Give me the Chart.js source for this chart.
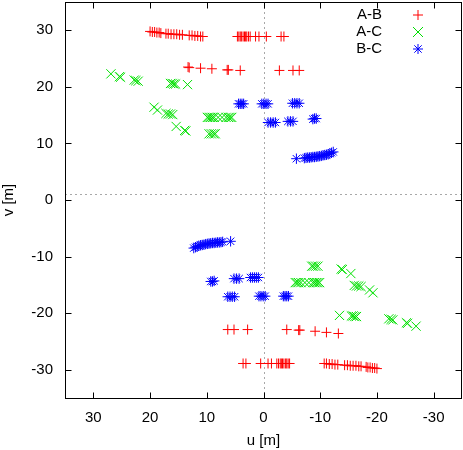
<!DOCTYPE html>
<html><head><meta charset="utf-8">
<script src="https://cdn.jsdelivr.net/npm/chart.js@4/dist/chart.umd.min.js"></script>
<style>html,body{margin:0;padding:0;background:#fff;}canvas{display:block;}</style>
</head><body>
<canvas id="c" width="463" height="450"></canvas>
<script>
// ---- data ----
const seriesNames = ['A-B', 'A-C', 'B-C'];

const uAB = [20.0,19.6,19.2,18.8,18.4,18.1,17.2,16.8,16.3,15.8,15.3,14.8,14.3,13.1,12.6,12.1,11.6,11.1,10.7,
             4.6,4.35,4.1,3.9,3.6,3.35,3.15,2.95,2.65,2.35,1.4,0.8,-0.5,-3.1,-3.6,
             13.3,13.1,11.1,9.1,6.4,6.2,4.1,-2.8,-5.2,-6.3,
             -20.0,-19.6,-19.2,-18.8,-18.4,-18.1,-17.2,-16.8,-16.3,-15.8,-15.3,-14.8,-14.3,-13.1,-12.6,-12.1,-11.6,-11.1,-10.7,
             -4.6,-4.35,-4.1,-3.9,-3.6,-3.35,-3.15,-2.95,-2.65,-2.35,-1.4,-0.8,0.5,3.1,3.6,
             -13.2,-11.1,-9.1,-6.4,-6.2,-4.1,2.8,5.2,6.3];
const vAB = [29.8,29.7,29.7,29.6,29.6,29.5,29.4,29.4,29.3,29.3,29.3,29.2,29.2,29.1,29.1,29.0,29.0,28.9,28.9,
             28.9,28.9,28.9,28.9,28.9,28.9,28.9,28.9,28.9,28.9,28.9,28.9,28.9,28.9,28.9,
             23.5,23.4,23.3,23.2,23.0,23.0,22.9,22.9,22.9,22.9,
             -29.8,-29.7,-29.7,-29.6,-29.6,-29.5,-29.4,-29.4,-29.3,-29.3,-29.3,-29.2,-29.2,-29.1,-29.1,-29.0,-29.0,-28.9,-28.9,
             -28.9,-28.9,-28.9,-28.9,-28.9,-28.9,-28.9,-28.9,-28.9,-28.9,-28.9,-28.9,-28.9,-28.9,-28.9,
             -23.6,-23.4,-23.2,-23.0,-23.0,-22.9,-22.9,-22.9,-22.9];

const uAC = [26.9,25.4,25.2, 22.8,22.5,22.1,
             16.4,16.1,15.8,15.5,13.4,
             19.3,18.7, 17.2,16.8,16.4,16.0,
             15.4,13.9,13.7,
             9.9,9.6,9.3,9.0,8.7,8.0,7.3,6.6,6.2,5.9,5.6,
             9.6,9.2,8.8,8.5,
             -26.9,-25.4,-25.2, -22.8,-22.5,-22.1,
             -16.4,-16.1,-15.8,-15.5,-13.4,
             -19.3,-18.7, -17.2,-16.8,-16.4,-16.0,
             -15.4,-13.9,-13.7,
             -9.9,-9.6,-9.3,-9.0,-8.7,-8.0,-7.3,-6.6,-6.2,-5.9,-5.6,
             -9.6,-9.2,-8.8,-8.5];
const vAC = [22.3,21.8,21.7, 21.2,21.1,21.0,
             20.6,20.6,20.5,20.5,20.4,
             16.4,15.9, 15.3,15.2,15.2,15.1,
             13.0,12.3,12.2,
             14.6,14.6,14.6,14.6,14.6,14.6,14.6,14.6,14.6,14.6,14.6,
             11.7,11.7,11.7,11.7,
             -22.3,-21.8,-21.7, -21.2,-21.1,-21.0,
             -20.6,-20.6,-20.5,-20.5,-20.4,
             -16.4,-15.9, -15.3,-15.2,-15.2,-15.1,
             -13.0,-12.3,-12.2,
             -14.6,-14.6,-14.6,-14.6,-14.6,-14.6,-14.6,-14.6,-14.6,-14.6,-14.6,
             -11.7,-11.7,-11.7,-11.7];

const uBC = [4.4,4.1,3.8,3.5,
             0.3,-0.05,-0.45,-0.8,
             -5.1,-5.5,-5.9,-6.3,
             -0.8,-1.25,-1.7,-2.1,
             -4.3,-4.75,-5.2,
             -8.7,-9.0,-9.3,
             -5.8,-7.2,-7.5,-7.8,-8.1,-8.4,-8.7,-9.0,-9.3,-9.6,-9.9,-10.2,-10.5,-10.8,-11.1,-11.4,-11.7,-12.0,-12.3,
             -4.4,-4.1,-3.8,-3.5,
             -0.3,0.05,0.45,0.8,
             5.1,5.5,5.9,6.3,
             0.9,1.25,1.6,1.95,2.3,
             4.3,4.75,5.2,
             8.7,9.0,9.3,
             5.8,7.2,7.5,7.8,8.1,8.4,8.7,9.0,9.3,9.6,9.9,10.2,10.5,10.8,11.1,11.4,11.7,12.0,12.3];
const vBC = [17.0,17.0,17.0,17.0,
             17.0,17.0,17.0,17.0,
             17.1,17.1,17.1,17.1,
             13.7,13.7,13.7,13.7,
             13.9,13.9,13.9,
             14.3,14.4,14.4,
             7.3,7.4,7.45,7.5,7.5,7.55,7.6,7.6,7.65,7.7,7.75,7.8,7.9,7.95,8.0,8.1,8.2,8.35,8.5,
             -17.0,-17.0,-17.0,-17.0,
             -17.0,-17.0,-17.0,-17.0,
             -17.1,-17.1,-17.1,-17.1,
             -13.7,-13.7,-13.7,-13.7,-13.7,
             -13.9,-13.9,-13.9,
             -14.3,-14.4,-14.4,
             -7.3,-7.4,-7.45,-7.5,-7.5,-7.55,-7.6,-7.6,-7.65,-7.7,-7.75,-7.8,-7.9,-7.95,-8.0,-8.1,-8.2,-8.35,-8.5];

const tickValues = [-30, -20, -10, 0, 10, 20, 30];
const axisMin = -35, axisMax = 35;
const zeroLineU = 0, zeroLineV = 1;

// ---- styles ----
const FONT = '"Liberation Sans", Arial, Helvetica, sans-serif';
const colors = ['#ff0000', '#00e000', '#0000ff'];
const styles = ['cross', 'crossRot', 'star'];
const radii = [5, 6.5, 5.2];

const zip = (u, v) => u.map((x, i) => ({x: x, y: v[i]}));
const dataSets = [zip(uAB, vAB), zip(uAC, vAC), zip(uBC, vBC)];

const framePlugin = {
  id: 'frame',
  beforeDatasetsDraw(chart) {
    const {ctx, chartArea: a, scales: {x, y}} = chart;
    ctx.save();
    ctx.strokeStyle = '#a8a8a8';
    ctx.lineWidth = 1;
    ctx.setLineDash([2, 3]);
    const px = Math.round(x.getPixelForValue(zeroLineU)) + 0.5;
    const py = Math.round(y.getPixelForValue(zeroLineV)) + 0.5;
    ctx.beginPath();
    ctx.moveTo(px, a.top); ctx.lineTo(px, a.bottom);
    ctx.moveTo(a.left, py); ctx.lineTo(a.right, py);
    ctx.stroke();
    ctx.restore();
  },
  afterDraw(chart) {
    const {ctx, chartArea: a, scales: {x, y}} = chart;
    ctx.save();
    ctx.strokeStyle = '#000';
    ctx.lineWidth = 1;
    const L = Math.round(a.left) + 0.5, R = Math.round(a.right) - 0.5;
    const T = Math.round(a.top) + 0.5, B = Math.round(a.bottom) + 0.5;
    ctx.strokeRect(L, T, R - L, B - T);
    const tl = 6;
    ctx.beginPath();
    tickValues.forEach(v => {
      const px = Math.round(x.getPixelForValue(v)) + 0.5;
      ctx.moveTo(px, B); ctx.lineTo(px, B - tl);
      ctx.moveTo(px, T); ctx.lineTo(px, T + tl);
      const py = Math.round(y.getPixelForValue(v)) + 0.5;
      ctx.moveTo(L, py); ctx.lineTo(L + tl, py);
      ctx.moveTo(R, py); ctx.lineTo(R - tl, py);
    });
    ctx.stroke();
    // legend (gnuplot style: text then symbol)
    ctx.font = '15px ' + FONT;
    ctx.textAlign = 'right';
    ctx.textBaseline = 'middle';
    const ly = [15, 32, 49];
    seriesNames.forEach((name, i) => {
      ctx.fillStyle = '#000';
      ctx.fillText(name, 382, ly[i]);
      ctx.strokeStyle = colors[i];
      ctx.lineWidth = 1;
      const cx = 418, cy = ly[i], r = 5;
      ctx.beginPath();
      if (i === 0 || i === 2) {
        ctx.moveTo(cx - r, cy); ctx.lineTo(cx + r, cy);
        ctx.moveTo(cx, cy - r); ctx.lineTo(cx, cy + r);
      }
      if (i === 1 || i === 2) {
        const d = i === 1 ? 5 : 3.7;
        ctx.moveTo(cx - d, cy - d); ctx.lineTo(cx + d, cy + d);
        ctx.moveTo(cx - d, cy + d); ctx.lineTo(cx + d, cy - d);
      }
      ctx.stroke();
    });
    ctx.restore();
  }
};

const axisFont = {family: FONT, size: 15};
const noPad = s => { s.paddingTop = 0; s.paddingBottom = 0; s.paddingLeft = 0; s.paddingRight = 0; };

new Chart(document.getElementById('c'), {
  type: 'scatter',
  data: {
    datasets: seriesNames.map((name, i) => ({
      label: name,
      data: dataSets[i],
      showLine: false,
      pointStyle: styles[i],
      pointRadius: radii[i],
      pointHoverRadius: radii[i],
      borderColor: colors[i],
      backgroundColor: 'transparent',
      pointBorderWidth: 1,
      borderWidth: 1,
      order: 2 - i
    }))
  },
  options: {
    responsive: false,
    animation: false,
    devicePixelRatio: 1,
    layout: {autoPadding: false, padding: {top: 2, right: 1, left: 0, bottom: 0}},
    plugins: {legend: {display: false}, tooltip: {enabled: false}},
    events: [],
    scales: {
      x: {
        type: 'linear', position: 'bottom', min: axisMin, max: axisMax, reverse: true,
        grid: {display: false, drawTicks: false}, border: {display: false},
        ticks: {padding: 11, font: axisFont, color: '#000', maxRotation: 0, autoSkip: false,
                callback: v => String(v)},
        afterBuildTicks: s => { s.ticks = tickValues.map(v => ({value: v})); },
        afterFit: s => { s.height = 52; noPad(s); },
        title: {display: true, text: 'u [m]', font: axisFont, color: '#000', padding: 0}
      },
      y: {
        type: 'linear', position: 'left', min: axisMin, max: axisMax,
        grid: {display: false, drawTicks: false}, border: {display: false},
        ticks: {padding: 12, font: axisFont, color: '#000', autoSkip: false,
                callback: v => String(v)},
        afterBuildTicks: s => { s.ticks = tickValues.map(v => ({value: v})); },
        afterFit: s => { s.width = 65; noPad(s); },
        title: {display: true, text: 'v [m]', font: axisFont, color: '#000', padding: 0}
      }
    }
  },
  plugins: [framePlugin]
});
</script>
</body></html>
